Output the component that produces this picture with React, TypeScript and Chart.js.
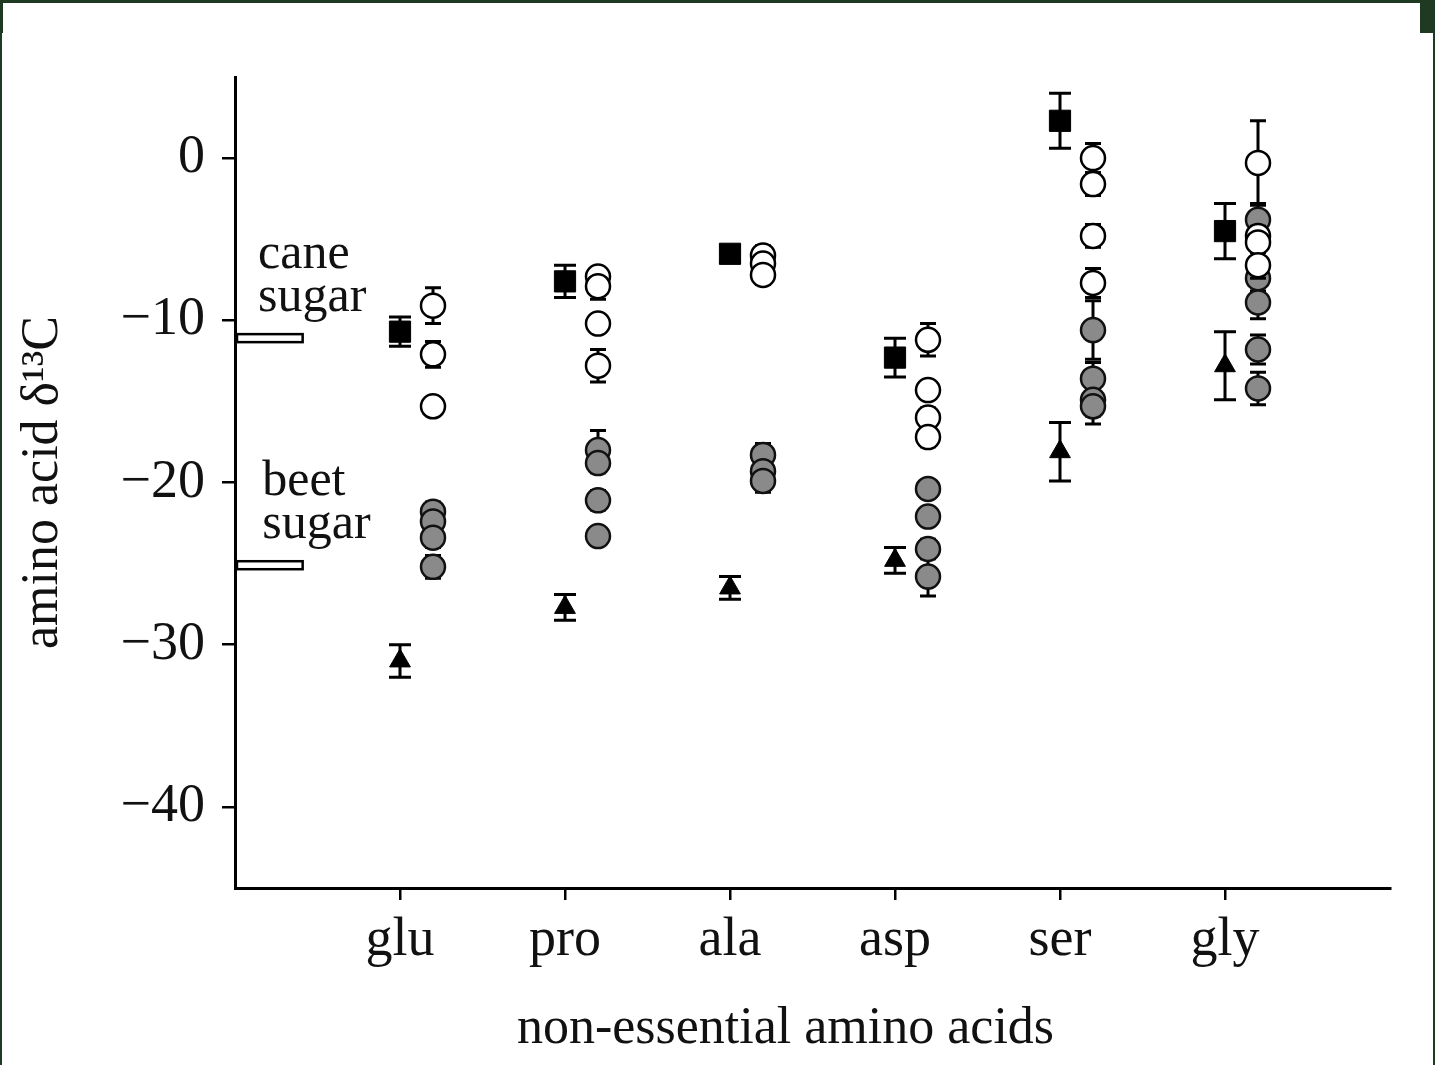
import { useEffect, useRef } from 'react';
import { Chart, registerables } from 'chart.js';

Chart.register(...registerables);

// Amino acids on the x axis
const categories = ['glu', 'pro', 'ala', 'asp', 'ser', 'gly'];
const yTickValues = [0, -10, -20, -30, -40];
const xAxisTitle = 'non-essential amino acids';

// Filled square: mean and error
const squareMeans = [-10.7, -7.6, -5.9, -12.3, 2.3, -4.5];
const squareErrors = [0.9, 1.0, 0.5, 1.2, 1.7, 1.7];

// Filled triangle: mean and error
const triangleMeans = [-31.0, -27.7, -26.5, -24.8, -18.1, -12.8];
const triangleErrors = [1.0, 0.8, 0.7, 0.8, 1.8, 2.1];

// Open circles: individual samples per amino acid
const openMeans = [
  [-9.1, -12.1, -15.3],
  [-7.3, -7.9, -10.2, -12.8],
  [-6.0, -6.5, -7.2],
  [-11.2, -14.3, -16.0, -17.2],
  [0.0, -1.6, -4.8, -7.7],
  [-0.3, -4.8, -5.2, -6.6],
];
const openErrors = [
  [1.1, 0.8, 0.4],
  [0.5, 0.8, 0.4, 1.0],
  [0.6, 0.6, 0.6],
  [1.0, 0.4, 0.6, 0.6],
  [0.9, 0.7, 0.7, 0.9],
  [2.6, 0.6, 0.6, 0.8],
];

// Grey circles: individual samples per amino acid
const greyMeans = [
  [-21.8, -22.4, -23.4, -25.2],
  [-18.0, -18.8, -21.1, -23.3],
  [-18.3, -19.3, -19.9],
  [-20.4, -22.1, -24.1, -25.8],
  [-10.6, -13.6, -14.9, -15.3],
  [-3.8, -7.4, -8.9, -11.8, -14.2],
];
const greyErrors = [
  [0.6, 0.6, 0.6, 0.7],
  [1.2, 0.6, 0.6, 0.4],
  [0.7, 0.6, 0.7],
  [0.4, 0.4, 0.6, 1.2],
  [1.8, 1.0, 1.0, 1.1],
  [1.0, 0.8, 1.0, 0.9, 1.0],
];

// Sugar reference values marked on the y axis
const sugarLabels = [['cane', 'sugar'], ['beet', 'sugar']];
const sugarValues = [-11.1, -25.1];

const FONT = '"Liberation Serif", "Times New Roman", serif';
const SAMPLE_SHIFT = 0.2;

const single = (means: number[], shift: number) =>
  means.map((v, i) => ({ x: i + 1 + shift, y: v }));
const multi = (means: number[][], shift: number) =>
  means.flatMap((vals, i) => vals.map((v) => ({ x: i + 1 + shift, y: v })));

const errorBarPlugin = {
  id: 'errorBars',
  beforeDatasetDraw(chart: any, args: any) {
    const ds = chart.data.datasets[args.index];
    const errs: number[] | undefined = ds.errors;
    if (!errs) return;
    const ys = chart.scales.y;
    const ctx = chart.ctx;
    const cap = ds.capHalf ?? 9;
    ctx.save();
    ctx.strokeStyle = '#000';
    ctx.lineWidth = 3;
    args.meta.data.forEach((el: any, i: number) => {
      const p = ds.data[i];
      const top = ys.getPixelForValue(p.y + errs[i]);
      const bot = ys.getPixelForValue(p.y - errs[i]);
      const x = el.x;
      ctx.beginPath();
      ctx.moveTo(x, top);
      ctx.lineTo(x, bot);
      ctx.moveTo(x - cap, top);
      ctx.lineTo(x + cap, top);
      ctx.moveTo(x - cap, bot);
      ctx.lineTo(x + cap, bot);
      ctx.stroke();
    });
    ctx.restore();
  },
};

const sugarPlugin = {
  id: 'sugarMarks',
  afterDatasetsDraw(chart: any) {
    const { ctx, scales, chartArea } = chart;
    const xs = scales.x;
    const ys = scales.y;
    ctx.save();
    sugarValues.forEach((v, k) => {
      const py = ys.getPixelForValue(v);
      const x0 = xs.getPixelForValue(0) + 2;
      const x1 = xs.getPixelForValue(0.41);
      ctx.fillStyle = '#fff';
      ctx.strokeStyle = '#000';
      ctx.lineWidth = 2.5;
      ctx.fillRect(x0, py - 4, x1 - x0, 8);
      ctx.strokeRect(x0, py - 4, x1 - x0, 8);
      ctx.fillStyle = '#111';
      ctx.font = `50px ${FONT}`;
      ctx.textAlign = 'left';
      ctx.textBaseline = 'alphabetic';
      const tx = xs.getPixelForValue(k === 0 ? 0.14 : 0.165);
      ctx.fillText(sugarLabels[k][0], tx, py - 70);
      ctx.fillText(sugarLabels[k][1], tx, py - 27);
    });
    // x axis title, set a little left of the axis centre
    ctx.fillStyle = '#111';
    ctx.font = `52px ${FONT}`;
    ctx.textAlign = 'center';
    ctx.textBaseline = 'alphabetic';
    ctx.fillText(xAxisTitle, (chartArea.left + chartArea.right) / 2 - 27, chart.height - 22);
    ctx.restore();
  },
};

export default function App() {
  const canvasRef = useRef<HTMLCanvasElement | null>(null);

  useEffect(() => {
    const canvas = canvasRef.current;
    if (!canvas) return;
    const chart = new Chart(canvas, {
      type: 'scatter',
      data: {
        datasets: [
          {
            label: 'open',
            data: multi(openMeans, SAMPLE_SHIFT),
            errors: openErrors.flat(),
            capHalf: 8,
            pointStyle: 'circle',
            pointRadius: 12,
            pointBackgroundColor: '#fff',
            pointBorderColor: '#000',
            pointBorderWidth: 2.5,
          },
          {
            label: 'grey',
            data: multi(greyMeans, SAMPLE_SHIFT),
            errors: greyErrors.flat(),
            capHalf: 8,
            pointStyle: 'circle',
            pointRadius: 12,
            pointBackgroundColor: '#8a8a8a',
            pointBorderColor: '#111',
            pointBorderWidth: 2.5,
          },
          {
            label: 'square',
            data: single(squareMeans, 0),
            errors: squareErrors,
            capHalf: 11,
            pointStyle: 'rect',
            pointRadius: 15,
            pointBackgroundColor: '#000',
            pointBorderColor: '#000',
            pointBorderWidth: 1,
          },
          {
            label: 'triangle',
            data: single(triangleMeans, 0),
            errors: triangleErrors,
            capHalf: 11,
            pointStyle: 'triangle',
            pointRadius: 12,
            pointBackgroundColor: '#000',
            pointBorderColor: '#000',
            pointBorderWidth: 1,
          },
        ] as any,
      },
      options: {
        animation: false,
        responsive: false,
        devicePixelRatio: 1,
        layout: { padding: { top: 77, right: 45, left: 0, bottom: 0 } },
        plugins: { legend: { display: false }, tooltip: { enabled: false } },
        scales: {
          x: {
            type: 'linear',
            min: 0,
            max: 7,
            afterFit: (s: any) => {
              s.height = 177;
            },
            afterBuildTicks: (s: any) => {
              s.ticks = categories.map((_, i) => ({ value: i + 1 }));
            },
            ticks: {
              callback: (v: any) => categories[Number(v) - 1] ?? '',
              color: '#111',
              font: { family: FONT, size: 54 },
              padding: 8,
              maxRotation: 0,
              autoSkip: false,
            },
            grid: {
              display: true,
              drawOnChartArea: false,
              drawTicks: true,
              tickLength: 12,
              color: '#000',
              lineWidth: 2.5,
            },
            border: { display: true, color: '#000', width: 3 },
            title: { display: false },
          },
          y: {
            type: 'linear',
            min: -45,
            max: 5,
            afterFit: (s: any) => {
              s.width = 235;
            },
            afterBuildTicks: (s: any) => {
              s.ticks = yTickValues.map((v) => ({ value: v }));
            },
            ticks: {
              callback: (v: any) => (Number(v) < 0 ? '\u2212' + Math.abs(Number(v)) : String(v)),
              color: '#111',
              font: { family: FONT, size: 54 },
              padding: 17,
            },
            grid: {
              display: true,
              drawOnChartArea: false,
              drawTicks: true,
              tickLength: 13,
              color: '#000',
              lineWidth: 2.5,
            },
            border: { display: true, color: '#000', width: 3 },
            title: {
              display: true,
              text: 'amino acid \u03B4\u00B9\u00B3C',
              color: '#111',
              font: { family: FONT, size: 52 },
              padding: { top: 12, bottom: 0 },
            },
          },
        },
      } as any,
      plugins: [errorBarPlugin, sugarPlugin],
    });
    return () => chart.destroy();
  }, []);

  return (
    <div
      style={{
        position: 'fixed',
        left: 0,
        top: 0,
        width: 1435,
        height: 1065,
        background: '#1e3a22',
        overflow: 'hidden',
      }}
    >
      <div style={{ position: 'absolute', left: 3, top: 3, width: 1417, height: 40, background: '#fff' }} />
      <div style={{ position: 'absolute', left: 2, top: 33, width: 1431, height: 1032, background: '#fff' }} />
      <canvas
        ref={canvasRef}
        width={1435}
        height={1065}
        style={{ position: 'absolute', left: 0, top: 0, width: 1435, height: 1065 }}
      />
    </div>
  );
}
